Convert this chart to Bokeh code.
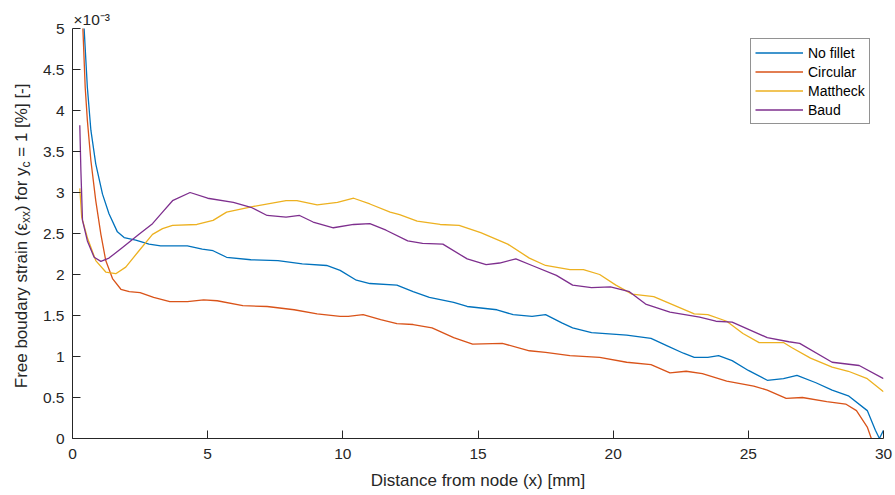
from bokeh.plotting import figure
from bokeh.layouts import row
from bokeh.models import Range1d, FixedTicker, Legend, LegendItem
from bokeh.core.properties import value
from bokeh.embed import file_html
from bokeh.resources import INLINE

# Values in units of 1e-3 (axis shows "x10^-3")
nofillet_x = [0.40, 0.43, 0.55, 0.68, 0.86, 1.11, 1.35, 1.66, 1.91, 2.34, 2.83, 3.26, 3.7, 4.25, 4.8, 5.2,
              5.7, 6.6, 7.6, 8.5, 9.4, 9.9, 10.5, 11.0, 12.0, 12.6, 13.2, 14.1, 14.6, 15.7, 16.3, 17.0,
              17.5, 18.1, 18.5, 19.2, 20.5, 21.4, 22.0, 22.6, 23.0, 23.5, 23.9, 24.4, 25.0, 25.7, 26.3,
              26.8, 27.5, 28.1, 28.7, 29.4, 29.7, 29.85, 30.0]
nofillet_y = [5.2, 5.0, 4.28, 3.76, 3.35, 2.98, 2.74, 2.52, 2.45, 2.42, 2.37, 2.35, 2.35, 2.35, 2.31, 2.29,
              2.21, 2.18, 2.17, 2.13, 2.11, 2.05, 1.93, 1.89, 1.87, 1.79, 1.72, 1.66, 1.61, 1.57, 1.51, 1.49,
              1.51, 1.41, 1.35, 1.29, 1.26, 1.22, 1.13, 1.04, 0.99, 0.99, 1.01, 0.95, 0.83, 0.71, 0.73,
              0.77, 0.68, 0.59, 0.52, 0.34, 0.10, 0.0, 0.10]

circular_x = [0.36, 0.47, 0.55, 0.68, 0.86, 1.05, 1.23, 1.48, 1.79, 2.1, 2.5, 3.0, 3.6, 4.25, 4.85, 5.35,
              6.3, 7.2, 8.2, 9.05, 9.9, 10.2, 10.75, 11.4, 12.0, 12.6, 13.3, 14.1, 14.8, 15.9, 16.9, 17.5,
              18.4, 19.5, 20.5, 21.4, 22.1, 22.7, 23.3, 24.2, 25.2, 25.7, 26.4, 27.0, 27.9, 28.6, 29.0,
              29.4, 29.55]
circular_y = [5.2, 4.28, 3.88, 3.39, 2.90, 2.49, 2.17, 1.95, 1.82, 1.79, 1.78, 1.72, 1.67, 1.67, 1.69, 1.68,
              1.62, 1.61, 1.57, 1.52, 1.49, 1.49, 1.51, 1.45, 1.40, 1.39, 1.35, 1.23, 1.15, 1.16, 1.07, 1.05,
              1.01, 0.99, 0.93, 0.90, 0.80, 0.82, 0.79, 0.70, 0.64, 0.59, 0.49, 0.50, 0.45, 0.42, 0.34,
              0.14, 0.0]

mattheck_x = [0.27, 0.34, 0.55, 0.86, 1.23, 1.6, 1.97, 2.46, 2.96, 3.33, 3.7, 4.6, 5.2, 5.7, 6.7, 7.9, 8.3,
              9.05, 9.8, 10.4, 11.0, 11.75, 12.1, 12.75, 13.6, 14.3, 15.1, 16.1, 16.9, 17.5, 18.4, 18.9,
              19.5, 20.1, 20.7, 21.5, 22.0, 23.0, 23.5, 24.2, 24.8, 25.4, 26.3, 26.6, 27.3, 28.1, 28.7,
              29.4, 30.0]
mattheck_y = [3.05, 2.70, 2.45, 2.17, 2.03, 2.01, 2.09, 2.29, 2.49, 2.56, 2.60, 2.61, 2.66, 2.76, 2.83, 2.90,
              2.90, 2.85, 2.88, 2.93, 2.86, 2.76, 2.73, 2.65, 2.61, 2.60, 2.51, 2.37, 2.20, 2.11, 2.06, 2.06,
              2.0, 1.87, 1.76, 1.73, 1.66, 1.52, 1.51, 1.43, 1.28, 1.17, 1.17, 1.11, 0.98, 0.87, 0.82,
              0.73, 0.57]

baud_x = [0.27, 0.31, 0.37, 0.55, 0.8, 1.05, 1.35, 1.85, 2.46, 2.96, 3.33, 3.7, 4.35, 5.0, 5.95, 6.6, 7.2,
          7.9, 8.4, 8.9, 9.65, 10.4, 11.0, 11.6, 12.4, 12.95, 13.7, 14.6, 15.3, 15.8, 16.4, 17.0, 17.9,
          18.5, 19.2, 19.9, 20.6, 21.2, 22.1, 23.2, 23.8, 24.4, 25.7, 26.5, 26.9, 28.1, 29.1, 30.0]
baud_y = [3.82, 3.27, 2.66, 2.41, 2.21, 2.16, 2.20, 2.33, 2.49, 2.62, 2.76, 2.90, 3.0, 2.93, 2.88, 2.82, 2.72,
          2.70, 2.72, 2.64, 2.57, 2.61, 2.62, 2.54, 2.41, 2.38, 2.37, 2.19, 2.12, 2.14, 2.19, 2.11, 1.99,
          1.87, 1.84, 1.85, 1.79, 1.64, 1.54, 1.48, 1.43, 1.42, 1.23, 1.18, 1.16, 0.93, 0.89, 0.73]

series_names = ["No fillet", "Circular", "Mattheck", "Baud"]
series_colors = ["#0072BD", "#D95319", "#EDB120", "#7E2F8E"]

x_ticks = [0, 5, 10, 15, 20, 25, 30]
y_ticks = [0, 0.5, 1, 1.5, 2, 2.5, 3, 3.5, 4, 4.5, 5]
y_tick_labels = ["0", "0.5", "1", "1.5", "2", "2.5", "3", "3.5", "4", "4.5", "5"]
x_label = "Distance from node (x) [mm]"
exponent_label = "×10⁻³"
# y label pieces: (text, is_subscript, width in em of its font)
y_label_pieces = [("Free boudary strain (ε", False, 9.727), ("xx", True, 1.0), (") for y", False, 2.556),
                  ("c", True, 0.5), ("= 1 [%] [-]", False, 4.587)]

AX = "#262626"
FONT = "Liberation Sans"
FRAME_W, FRAME_H = 811, 410
LEFT_W = 36
LABEL_FS, SUB_FS = 17, 12

y_range = Range1d(0, 5)

# ---------------- main plot ----------------
p = figure(frame_width=FRAME_W, frame_height=FRAME_H, min_border_left=72 - LEFT_W, min_border_top=28,
           min_border_right=10, min_border_bottom=45,
           x_range=Range1d(0, 30), y_range=y_range,
           output_backend="svg", toolbar_location=None, tools="")
p.outline_line_color = None
p.xgrid.visible = False
p.ygrid.visible = False
p.background_fill_color = "white"
p.border_fill_color = "white"

p.title.text = exponent_label
p.title.align = "left"
p.title.offset = 1
p.title.standoff = 1
p.title.text_font = FONT
p.title.text_font_size = "15.5px"
p.title.text_font_style = "normal"
p.title.text_color = AX

for ax in (p.xaxis[0], p.yaxis[0]):
    ax.axis_line_color = AX
    ax.major_tick_line_color = AX
    ax.minor_tick_line_color = None
    ax.major_tick_in = 8
    ax.major_tick_out = 0
    ax.major_label_text_color = AX
    ax.major_label_text_font = FONT
    ax.major_label_text_font_size = "15.5px"

p.xaxis.ticker = FixedTicker(ticks=x_ticks)
p.xaxis.major_label_standoff = 10
p.xaxis.axis_label = x_label
p.xaxis.axis_label_text_font = FONT
p.xaxis.axis_label_text_font_size = f"{LABEL_FS}px"
p.xaxis.axis_label_text_font_style = "normal"
p.xaxis.axis_label_text_color = AX
p.xaxis.axis_label_standoff = 9

p.yaxis.ticker = FixedTicker(ticks=y_ticks)
p.yaxis.major_label_overrides = {t: s for t, s in zip(y_ticks, y_tick_labels)}
p.yaxis.major_label_standoff = 8

xs = [nofillet_x, circular_x, mattheck_x, baud_x]
ys = [nofillet_y, circular_y, mattheck_y, baud_y]
renderers = []
for x, y, c in zip(xs, ys, series_colors):
    renderers.append(p.line(x, y, line_color=c, line_width=1.3))

legend = Legend(items=[LegendItem(label=n, renderers=[r]) for n, r in zip(series_names, renderers)],
                location=(678, 314), orientation="vertical",
                glyph_width=48, glyph_height=19, label_height=19, label_standoff=5,
                spacing=0, padding=4, margin=0,
                label_text_font=FONT, label_text_font_size="14px", label_text_color="black",
                border_line_color=AX, border_line_width=1,
                background_fill_color="white", background_fill_alpha=1.0)
p.add_layout(legend)

# ---------------- y label strip (text with subscripts, rotated) ----------------
q = figure(frame_width=LEFT_W, frame_height=FRAME_H, min_border_left=0, min_border_right=0,
           min_border_top=28, min_border_bottom=45,
           x_range=Range1d(0, LEFT_W), y_range=y_range,
           output_backend="svg", toolbar_location=None, tools="")
q.axis.visible = False
q.grid.visible = False
q.outline_line_color = None
q.background_fill_color = "white"
q.border_fill_color = "white"

px_per_unit = FRAME_H / (y_range.end - y_range.start)
widths_px = [w * (SUB_FS if sub else LABEL_FS) for _, sub, w in y_label_pieces]
gap_px = 0.278 * LABEL_FS  # the space before "="
total_px = sum(widths_px) + gap_px
pos = (y_range.start + y_range.end) / 2 * px_per_unit - total_px / 2
baseline_x = 21
for (txt, sub, _), wpx in zip(y_label_pieces, widths_px):
    if txt.startswith("="):
        pos += gap_px
    q.text(x=[baseline_x + (4 if sub else 0)], y=[pos / px_per_unit], text=[txt], angle=1.5707963267948966,
           text_font=value(FONT), text_font_size=value(f"{SUB_FS if sub else LABEL_FS}px"),
           text_color=AX, text_align="left", text_baseline="alphabetic")
    pos += wpx

layout = row(q, p)
open("out.html", "w").write(file_html(layout, INLINE))
